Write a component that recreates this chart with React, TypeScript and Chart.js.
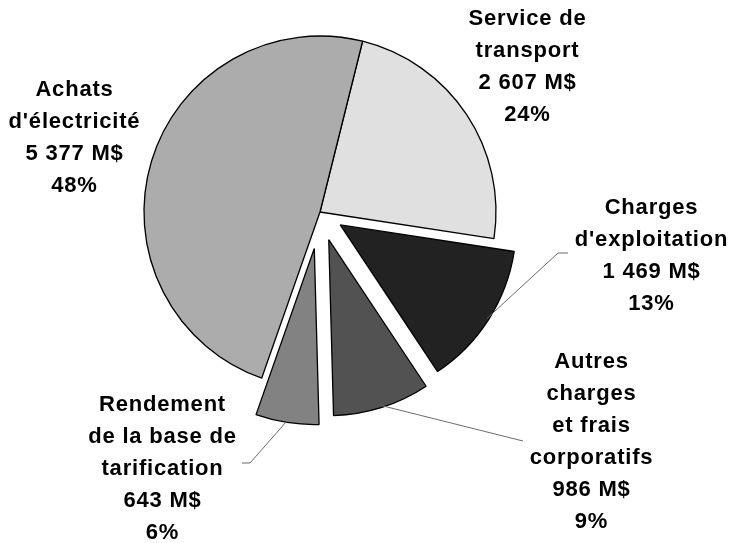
import { useEffect, useRef } from "react";
import { Chart, registerables } from "chart.js";

Chart.register(...registerables);

// ---- data ----
const categories = [
  "Service de transport",
  "Charges d'exploitation",
  "Autres charges et frais corporatifs",
  "Rendement de la base de tarification",
  "Achats d'électricité",
];
const amounts = [2607, 1469, 986, 643, 5377];
const percentLabels = ["24%", "13%", "9%", "6%", "48%"];
const amountLabels = ["2 607 M$", "1 469 M$", "986 M$", "643 M$", "5 377 M$"];
const nameLines = [
  ["Service de", "transport"],
  ["Charges", "d'exploitation"],
  ["Autres", "charges", "et frais", "corporatifs"],
  ["Rendement", "de la base de", "tarification"],
  ["Achats", "d'électricité"],
];

// ---- styles / layout ----
const colors = ["#e0e0e0", "#222222", "#525252", "#828282", "#acacac"];
const explode = [0, 24, 29, 37, 0];
// label block centre, relative to pie centre (px)
const labelCenters = [
  [207, -145],
  [331, 44],
  [271, 230],
  [-158, 257],
  [-246, -74],
];
// leader line points after the arc edge (relative to pie centre), null = none
const leaderPoints: (number[][] | null)[] = [
  null,
  [
    [238, 41],
    [248, 41],
  ],
  [[203, 229]],
  [
    [-70, 251],
    [-78, 251],
  ],
  null,
];

const LINE_H = 32;
const RADIUS = 176;

const explodePlugin = {
  id: "explodeSlices",
  afterDatasetsUpdate(chart: any) {
    const meta = chart.getDatasetMeta(0);
    meta.data.forEach((arc: any, i: number) => {
      const d = explode[i];
      if (!d) return;
      const mid = (arc.startAngle + arc.endAngle) / 2;
      arc.x += Math.cos(mid) * d;
      arc.y += Math.sin(mid) * d;
    });
  },
};

const labelPlugin = {
  id: "sliceLabels",
  afterDatasetsDraw(chart: any) {
    const ctx = chart.ctx as CanvasRenderingContext2D;
    const meta = chart.getDatasetMeta(0);
    const ca = chart.chartArea;
    const cx = (ca.left + ca.right) / 2;
    const cy = (ca.top + ca.bottom) / 2;
    ctx.save();
    // leader lines
    ctx.strokeStyle = "#6a6a6a";
    ctx.lineWidth = 1;
    meta.data.forEach((arc: any, i: number) => {
      const pts = leaderPoints[i];
      if (!pts) return;
      const mid = (arc.startAngle + arc.endAngle) / 2;
      const r = arc.outerRadius - 2;
      ctx.beginPath();
      ctx.moveTo(arc.x + Math.cos(mid) * r, arc.y + Math.sin(mid) * r);
      pts.forEach((p) => ctx.lineTo(cx + p[0], cy + p[1]));
      ctx.stroke();
    });
    // text
    ctx.fillStyle = "#000";
    ctx.font = "bold 22px 'Liberation Sans', Arial, sans-serif";
    (ctx as any).letterSpacing = "0.8px";
    ctx.textAlign = "center";
    ctx.textBaseline = "middle";
    categories.forEach((_, i) => {
      const lines = [...nameLines[i], amountLabels[i], percentLabels[i]];
      const [lx, ly] = labelCenters[i];
      const top = cy + ly - ((lines.length - 1) * LINE_H) / 2;
      lines.forEach((t, k) => {
        ctx.fillText(t, cx + lx + 0.5, top + k * LINE_H);
      });
    });
    ctx.restore();
  },
};

export default function App() {
  const ref = useRef<HTMLCanvasElement | null>(null);
  useEffect(() => {
    document.body.style.margin = "0";
    document.body.style.overflow = "hidden";
    const canvas = ref.current;
    if (!canvas) return;
    const chart = new Chart(canvas, {
      type: "pie",
      data: {
        labels: categories,
        datasets: [
          {
            data: amounts,
            backgroundColor: colors,
            borderColor: "#000",
            borderWidth: 1.3,
          },
        ],
      },
      options: {
        responsive: false,
        animation: false,
        rotation: 14,
        radius: RADIUS,
        layout: { padding: { left: 0, right: 90, top: 0, bottom: 119 } },
        plugins: {
          legend: { display: false },
          tooltip: { enabled: false },
        },
        events: [],
      },
      plugins: [explodePlugin, labelPlugin],
    });
    return () => chart.destroy();
  }, []);
  return (
    <div style={{ width: 730, height: 543, background: "#fff" }}>
      <canvas ref={ref} width={730} height={543} style={{ display: "block" }} />
    </div>
  );
}
